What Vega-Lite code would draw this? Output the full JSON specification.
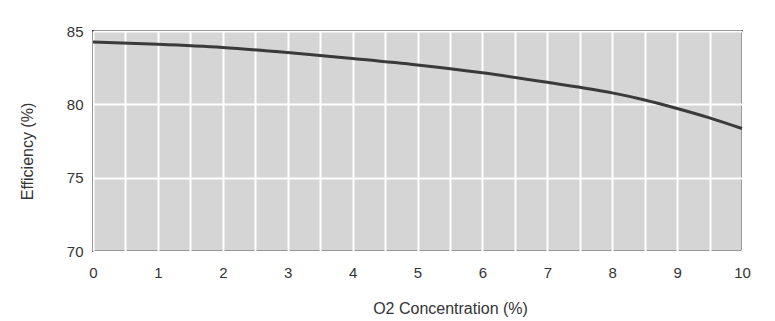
{
  "$schema": "https://vega.github.io/schema/vega-lite/v6.json",
  "width": 649,
  "height": 220,
  "autosize": "none",
  "padding": {"left": 93, "top": 31, "right": 33, "bottom": 70},
  "background": "white",
  "config": {
    "view": {"fill": "#d5d5d5", "stroke": "#333333", "strokeWidth": 2},
    "font": "Liberation Sans",
    "axis": {
      "grid": true,
      "gridColor": "white",
      "gridWidth": 2,
      "gridOpacity": 1,
      "domain": false,
      "ticks": false,
      "labelFont": "Liberation Sans",
      "labelFontSize": 15,
      "labelColor": "#333333",
      "titleFont": "Liberation Sans",
      "titleFontSize": 16,
      "titleFontWeight": "normal",
      "titleColor": "#333333"
    }
  },
  "data": {
    "values": [
      {"o2": 0, "eff": 84.25},
      {"o2": 1, "eff": 84.1},
      {"o2": 2, "eff": 83.88},
      {"o2": 3, "eff": 83.53},
      {"o2": 4, "eff": 83.12},
      {"o2": 5, "eff": 82.68},
      {"o2": 6, "eff": 82.15},
      {"o2": 7, "eff": 81.5},
      {"o2": 8, "eff": 80.78},
      {"o2": 8.5, "eff": 80.3},
      {"o2": 9, "eff": 79.72},
      {"o2": 9.5, "eff": 79.08},
      {"o2": 10, "eff": 78.35}
    ]
  },
  "mark": {"type": "line", "color": "#3a3a3a", "strokeWidth": 3, "interpolate": "monotone"},
  "encoding": {
    "x": {
      "field": "o2",
      "type": "quantitative",
      "scale": {"domain": [0, 10], "nice": false},
      "axis": {
        "title": "O2 Concentration (%)",
        "values": [0, 0.5, 1, 1.5, 2, 2.5, 3, 3.5, 4, 4.5, 5, 5.5, 6, 6.5, 7, 7.5, 8, 8.5, 9, 9.5, 10],
        "labelExpr": "datum.value % 1 === 0 ? '' + datum.value : ''",
        "labelPadding": 14,
        "labelFlush": false,
        "titleX": 357,
        "titleY": 57,
        "titleBaseline": "middle"
      }
    },
    "y": {
      "field": "eff",
      "type": "quantitative",
      "scale": {"domain": [70, 85], "nice": false, "zero": false},
      "axis": {
        "title": "Efficiency (%)",
        "values": [70, 75, 80, 85],
        "labelPadding": 10,
        "titleX": -58,
        "titleY": 120
      }
    }
  }
}
